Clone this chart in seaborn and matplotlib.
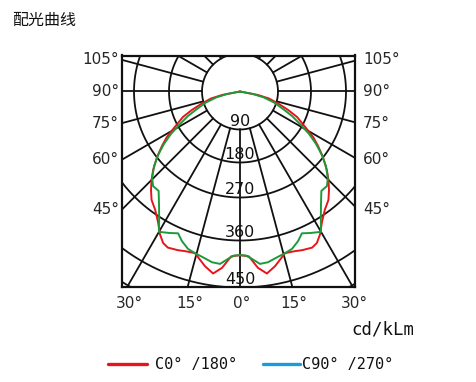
import numpy as np
import pandas as pd
import matplotlib
matplotlib.use("Agg")
import matplotlib.pyplot as plt
from matplotlib.lines import Line2D
import seaborn as sns

# ---------------- data (cd/klm vs. angle from nadir, degrees) ----------------
angles_c0 = [0, 3.1, 5.8, 8.4, 11.3, 14.2, 15.6, 19.0, 21.4, 24.8, 26.9, 29.3, 32.1,
             35.6, 39.2, 42.1, 45.0, 47.9, 51.7, 55.1, 58.1, 61.1, 65.9, 69.0, 72.2,
             76.4, 79.0, 90]
cd_c0 = [388, 391, 414, 427, 416, 402, 396, 398, 401, 404, 400, 388, 370,
         353, 341, 326, 310, 293, 269, 242, 219, 191, 157, 127, 98,
         71, 43, 0]

angles_c90 = [0, 2.1, 4.1, 6.6, 9.3, 12.6, 15.6, 18.3, 21.2, 23.6, 26.3, 30.0, 32.6,
              35.5, 39.3, 42.6, 45.5, 49.1, 52.2, 55.4, 58.4, 61.2, 64.8, 67.9, 72.1,
              76.0, 79.1, 90]
cd_c90 = [388, 389, 396, 407, 406, 400, 396, 392, 382, 371, 377, 385, 362,
          340, 317, 317, 306, 286, 264, 235, 206, 176, 143, 113, 85,
          58, 31, 0]

ring_values = [90, 180, 270, 360, 450, 540]
ring_labels = ["90", "180", "270", "360", "450"]
side_angle_ticks = [105, 90, 75, 60, 45]
bottom_angle_ticks = [-30, -15, 0, 15, 30]
legend_labels = ["C0° /180°", "C90° /270°"]
title = "配光曲线"
unit_label = "cd/kLm"

# ---------------- radial scale of the drawing (value -> drawing radius) -------
RING_R = [0, 38, 71, 106, 149, 196, 224]
def rad(v):
    return np.interp(v, [0] + ring_values, RING_R)

def to_xy(ang_deg, val, side):
    a = np.deg2rad(np.asarray(ang_deg, float))
    r = rad(np.asarray(val, float))
    return side * r * np.sin(a), -r * np.cos(a)

# ---------------- figure ----------------
sns.set_theme(style="white")
plt.rcParams["font.family"] = ["DejaVu Sans"]
W, H = 476, 382
fig = plt.figure(figsize=(W / 100, H / 100), dpi=100)
fig.patch.set_facecolor("white")

box_l, box_r, box_t, box_b = 122, 355, 55.5, 286.7
cx, cy = 240, 91.5
ax = fig.add_axes([box_l / W, 1 - box_b / H, (box_r - box_l) / W, (box_b - box_t) / H])
ax.set_xlim(box_l - cx, box_r - cx)
ax.set_ylim(cy - box_b, cy - box_t)
ax.set_xticks([]); ax.set_yticks([])
ax.set_facecolor("white")
for s in ax.spines.values():
    s.set_visible(True)
    s.set_color("#111111")
    s.set_linewidth(1.6)

gc = "#111111"
glw = 1.3
# rings
t = np.linspace(-180, 180, 721)
for v in ring_values:
    x, y = to_xy(t, np.full_like(t, v), 1)
    ax.plot(x, y, color=gc, lw=glw, zorder=1)
# radial lines
r0 = ring_values[0]
for a in range(-180, 181, 15):
    x, y = to_xy([a, a], [r0, 1000], 1)
    ax.plot(x, y, color=gc, lw=glw, zorder=1)

# curves
def curve_df(angs, vals):
    xl, yl = to_xy(angs[::-1], vals[::-1], -1)
    xr, yr = to_xy(angs, vals, 1)
    return pd.DataFrame({"x": np.r_[xl, xr], "y": np.r_[yl, yr]})

red = "#e8141c"
green = "#1c9a3a"
blue = "#1a9be0"
d0 = curve_df(angles_c0, cd_c0)
d90 = curve_df(angles_c90, cd_c90)
sns.lineplot(data=d0, x="x", y="y", sort=False, estimator=None, color=red, lw=1.4, ax=ax, zorder=3)
sns.lineplot(data=d90, x="x", y="y", sort=False, estimator=None, color=green, lw=1.4, ax=ax, zorder=4)
ax.set_xlabel(""); ax.set_ylabel("")

# ring labels
for v, lab in zip(ring_values, ring_labels):
    ax.text(0, -(rad(v) - 8), lab, ha="center", va="center", fontsize=11.5, color="#111111", zorder=5)

# side angle labels
xl_edge = box_l - cx
for a in side_angle_ticks:
    ar = np.deg2rad(a)
    yy = xl_edge * np.cos(ar) / np.sin(ar)
    ax.text(xl_edge - 3, yy, f"{a}°", ha="right", va="center", fontsize=11, clip_on=False)
    ax.text(box_r - cx + 8, yy, f"{a}°", ha="left", va="center", fontsize=11, clip_on=False)
# bottom angle labels
yb = cy - box_b
for a in bottom_angle_ticks:
    xx = yb * np.tan(np.deg2rad(a))
    ax.text(xx + 2, yb - 17, f"{abs(a)}°", ha="center", va="center", fontsize=11, clip_on=False)

# title & unit
fig.text(12.5 / W, 1 - 20 / H, title, ha="left", va="center", fontsize=11.5,
         family=["Noto Sans CJK SC", "DejaVu Sans"], color="#111111")
fig.text(414 / W, 1 - 330 / H, unit_label, ha="right", va="center", fontsize=12.5,
         family=["DejaVu Sans Mono"], color="#111111")

# legend (manual)
ly = 1 - 364 / H
fig.add_artist(Line2D([108 / W, 147 / W], [ly, ly], color=red, lw=2.4))
fig.text(155 / W, ly, legend_labels[0], ha="left", va="center", fontsize=11,
         family=["DejaVu Sans Mono"], color="#111111")
fig.add_artist(Line2D([263 / W, 300 / W], [ly, ly], color=blue, lw=2.4))
fig.text(302 / W, ly, legend_labels[1], ha="left", va="center", fontsize=11,
         family=["DejaVu Sans Mono"], color="#111111")

fig.savefig("out.png", dpi=100, facecolor="white")
